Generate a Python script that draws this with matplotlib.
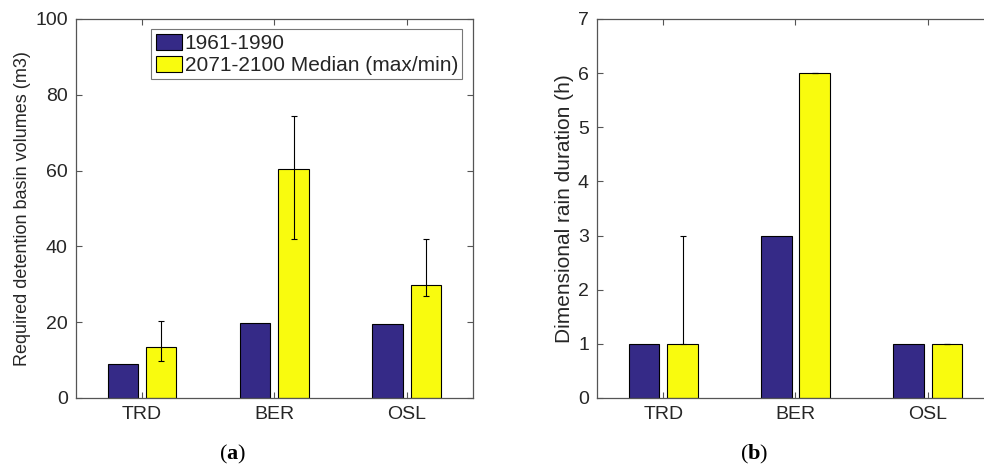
import numpy as np
import matplotlib
matplotlib.use("Agg")
import matplotlib.pyplot as plt

plt.rcParams['font.family'] = ['Liberation Sans', 'DejaVu Sans']
plt.rcParams['mathtext.fontset'] = 'custom'
plt.rcParams['mathtext.rm'] = 'Liberation Serif'
plt.rcParams['mathtext.bf'] = 'Liberation Serif:bold'

# data
sites = ["TRD", "BER", "OSL"]
labels = ["1961-1990", "2071-2100 Median (max/min)"]

vol_1961 = [8.9, 19.7, 19.5]
vol_2071 = [13.5, 60.3, 29.8]
vol_2071_max = [20.4, 74.3, 41.9]
vol_2071_min = [9.8, 42.0, 26.9]

dur_1961 = [1, 3, 1]
dur_2071 = [1, 6, 1]
dur_2071_max = [3, 6, 1]
dur_2071_min = [1, 6, 1]

blue = "#352A87"
yellow = "#F9FB0E"
txt = "#262626"
spine = "#555555"

fig = plt.figure(figsize=(9.84, 4.69), dpi=100, facecolor="white")
ax_a = fig.add_axes([0.0772, 0.1514, 0.4032, 0.8081])
ax_b = fig.add_axes([0.607, 0.1514, 0.4028, 0.8081])

x = np.arange(1, len(sites) + 1)
w = 0.23
off = 0.145


def draw_panel(ax, old, new, new_max, new_min, ylim, yticks, ylabel, ylabel_size):
    ax.bar(x - off, old, w, color=blue, edgecolor="black", linewidth=0.8, label=labels[0])
    ax.bar(x + off, new, w, color=yellow, edgecolor="black", linewidth=0.8, label=labels[1])
    lo = np.array(new) - np.array(new_min)
    hi = np.array(new_max) - np.array(new)
    ax.errorbar(x + off, new, yerr=[lo, hi], fmt="none", ecolor="black",
                elinewidth=0.8, capsize=2.5, capthick=0.8)
    ax.set_xlim(0.5, 3.5)
    ax.set_ylim(*ylim)
    ax.set_yticks(yticks)
    ax.set_xticks(x)
    ax.set_xticklabels(sites)
    ax.set_ylabel(ylabel, fontsize=ylabel_size, color=txt, labelpad=3)
    ax.tick_params(direction="in", top=True, right=True, length=4, width=0.8,
                   labelsize=14, colors=spine, labelcolor=txt, pad=6)
    for s in ax.spines.values():
        s.set_color(spine)
        s.set_linewidth(0.9)


draw_panel(ax_a, vol_1961, vol_2071, vol_2071_max, vol_2071_min,
           (0, 100), range(0, 101, 20), "Required detention basin volumes (m3)", 13)
draw_panel(ax_b, dur_1961, dur_2071, dur_2071_max, dur_2071_min,
           (0, 7), range(0, 8), "Dimensional rain duration (h)", 15)

leg = ax_a.legend(loc="upper right", fontsize=15, frameon=True, fancybox=False,
                  borderaxespad=0.5, handlelength=1.25, handleheight=0.8,
                  handletextpad=0.15, borderpad=0.2, labelspacing=0.15)
leg.get_frame().set_edgecolor(spine)
leg.get_frame().set_linewidth(0.8)
for t in leg.get_texts():
    t.set_color(txt)

fig.text(0.236, 0.03, r"$(\mathbf{a})$", ha="center", va="center", fontsize=16, color="black")
fig.text(0.766, 0.03, r"$(\mathbf{b})$", ha="center", va="center", fontsize=16, color="black")

fig.savefig("out.png", dpi=100, facecolor="white")
